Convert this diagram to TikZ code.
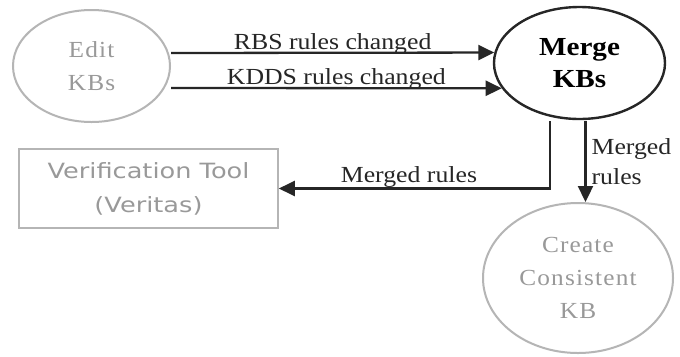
\documentclass[tikz,border=0pt]{standalone}
\usepackage{fontspec}
\setmainfont{Liberation Serif}[FakeStretch=1.12]
\newfontfamily\faintserif{Liberation Serif}[FakeStretch=1.1,LetterSpace=5]
\newfontfamily\toolsans{DejaVu Sans}[FakeStretch=1.22]
\usetikzlibrary{shapes.geometric,arrows.meta}
\definecolor{inkdark}{HTML}{262626}
\definecolor{faintline}{HTML}{B5B5B5}
\definecolor{fainttext}{HTML}{999999}
\tikzset{
  flow/.style={draw=inkdark,line width=2.3bp,-{Triangle[length=16bp,width=15bp]}},
  faintproc/.style={ellipse,draw=faintline,line width=2bp,inner sep=0pt,align=center,
    text=fainttext,font=\faintserif\fontsize{23bp}{33bp}\selectfont},
  mainproc/.style={ellipse,draw=inkdark,line width=2.4bp,inner sep=0pt,align=center,
    text=black,font=\bfseries\fontsize{26bp}{32bp}\selectfont},
  toolbox/.style={rectangle,draw=faintline,line width=1.6bp,inner sep=0pt,align=center,
    text=fainttext,font=\toolsans\fontsize{21bp}{34bp}\selectfont},
  flowlabel/.style={text=inkdark,font=\fontsize{23bp}{30bp}\selectfont,inner sep=0pt}
}
\begin{document}
\begin{tikzpicture}[x=1bp,y=-1bp]
  \useasboundingbox[fill=white] (0,0) rectangle (680,356);

  % processes and the external tool
  \node[faintproc,minimum width=157bp,minimum height=112bp] (edit) at (91.5,66) {Edit\\KBs};
  \node[mainproc,minimum width=171bp,minimum height=112bp] (merge) at (579.5,63) {Merge\\KBs};
  \node[toolbox,minimum width=259bp,minimum height=79bp] (verif) at (148.5,188.5) {Verification Tool\\(Veritas)};
  \node[faintproc,minimum width=190bp,minimum height=150bp] (create) at (578,278) {Create\\Consistent\\KB};

  % changed rules flowing into the merge
  \draw[flow] (edit.east |- 0,53) -- node[flowlabel,anchor=base,yshift=3bp] {RBS rules changed} (merge.173);
  \draw[flow] (edit.east |- 0,88) -- node[flowlabel,anchor=base,yshift=3.5bp] {KDDS rules changed} (merge.198);

  % merged rules sent to the verifier
  \coordinate (mleft) at ([xshift=-29.5bp,yshift=-1bp]merge.south);
  \draw[flow] (mleft) |- node[flowlabel,anchor=base,yshift=6bp,pos=0.76] {Merged rules} (verif.east);

  % merged rules sent to the consistent KB
  \coordinate (mright) at ([xshift=6bp,yshift=-1bp]merge.south);
  \draw[flow] (mright) -- node[flowlabel,right,align=left,xshift=5bp] {Merged\\rules} (mright |- create.north);
\end{tikzpicture}
\end{document}
